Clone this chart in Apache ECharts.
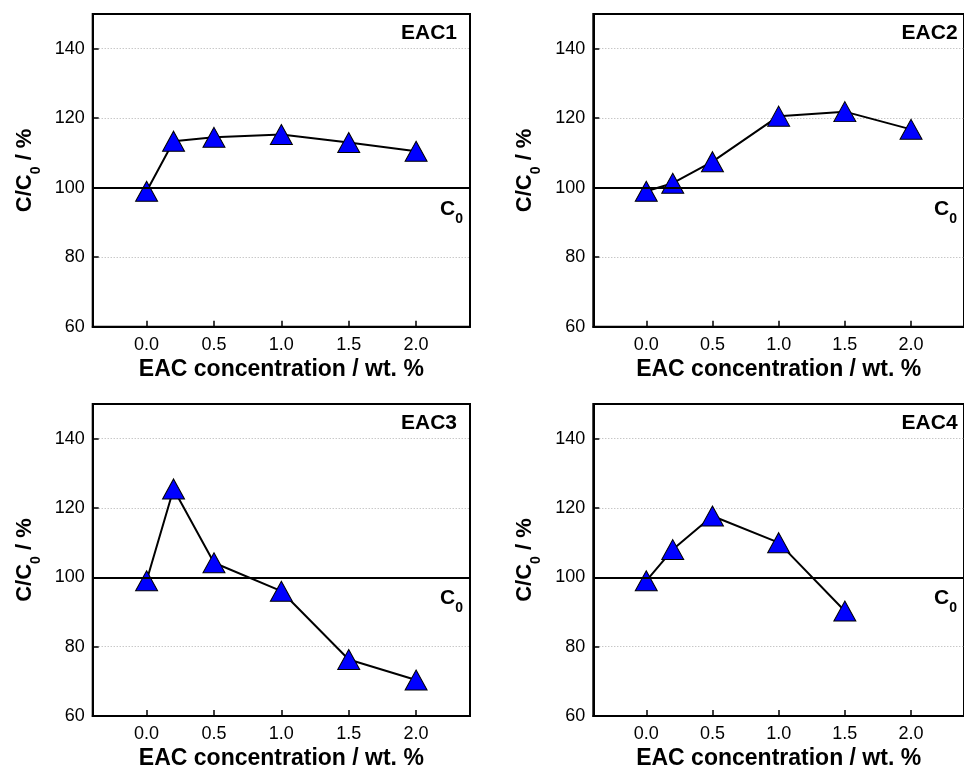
<!DOCTYPE html>
<html>
<head>
<meta charset="utf-8">
<script src="https://cdn.jsdelivr.net/npm/echarts@6/dist/echarts.min.js"></script>
<style>
html,body{margin:0;padding:0;background:#fff;}
#chart{width:964px;height:773px;}
</style>
</head>
<body>
<div id="chart"></div>
<script>
// ---- data ----
const xValues = [0.0, 0.2, 0.5, 1.0, 1.5, 2.0];
const eac1 = [99, 113.4, 114.5, 115.3, 113, 110.5];
const eac2 = [99, 101.3, 107.5, 120.6, 121.9, 116.8];
const eac3 = [99, 125.5, 104.2, 96, 76.3, 70.4];
const eac4 = [99, 108, 117.7, 110, 90.3];
const panelNames = ['EAC1', 'EAC2', 'EAC3', 'EAC4'];
const xTicks = [0.0, 0.5, 1.0, 1.5, 2.0];
const yTicks = [60, 80, 100, 120, 140];
const c0Level = 100;

const FONT = 'Liberation Sans, Arial, Helvetica, sans-serif';
const seriesValues = [eac1, eac2, eac3, eac4];

const grids = [
  {left: 92.7, top: 14, width: 377.3, height: 312.7},
  {left: 593.3, top: 14, width: 377.3, height: 312.7},
  {left: 92.7, top: 404, width: 377.3, height: 312},
  {left: 593.3, top: 404, width: 377.3, height: 312}
];
const titlePos = [
  {right: 507, top: 23},
  {right: 6.4, top: 23},
  {right: 507, top: 413},
  {right: 6.4, top: 413}
];

const option = {
  backgroundColor: '#fff',
  animation: false,
  textStyle: {fontFamily: FONT},
  title: panelNames.map((n, i) => ({
    text: n, right: titlePos[i].right, top: titlePos[i].top, padding: 0,
    textStyle: {fontFamily: FONT, fontSize: 21, fontWeight: 'bold', color: '#000'}
  })),
  grid: grids.map(g => Object.assign({
    show: true, borderColor: '#000', borderWidth: 2, backgroundColor: 'transparent',
    containLabel: false
  }, g)),
  xAxis: grids.map((g, i) => ({
    type: 'value', gridIndex: i, min: -0.4, max: 2.4,
    name: 'EAC concentration / wt. %', nameLocation: 'middle', nameGap: 31,
    nameTextStyle: {fontFamily: FONT, fontSize: 23, fontWeight: 'bold', color: '#000'},
    axisLine: {show: true, onZero: false, lineStyle: {color: '#000', width: 2}},
    axisTick: {show: true, inside: true, length: 6, customValues: xTicks, lineStyle: {color: '#000', width: 1.5}},
    axisLabel: {show: true, customValues: xTicks, margin: 9, fontFamily: FONT, fontSize: 18, color: '#000',
      formatter: v => Number(v).toFixed(1)},
    splitLine: {show: false}
  })),
  yAxis: grids.map((g, i) => ({
    type: 'value', gridIndex: i, min: 60, max: 150, interval: 20,
    name: '{a|C/C}{s|0}{a| / %}', nameLocation: 'middle', nameGap: 50, nameRotate: 90,
    nameTextStyle: {
      fontFamily: FONT, color: '#000',
      rich: {
        a: {fontFamily: FONT, fontSize: 22, fontWeight: 'bold', color: '#000', lineHeight: 36},
        s: {fontFamily: FONT, fontSize: 14, fontWeight: 'bold', color: '#000', lineHeight: 14, verticalAlign: 'bottom'}
      }
    },
    axisLine: {show: true, onZero: false, lineStyle: {color: '#000', width: 2}},
    axisTick: {show: true, inside: true, length: 6, customValues: yTicks, lineStyle: {color: '#000', width: 1.5}},
    axisLabel: {show: true, customValues: yTicks, margin: 8, fontFamily: FONT, fontSize: 18, color: '#000'},
    splitLine: {show: true, lineStyle: {color: '#b0b0b0', width: 1, type: [1, 2]}}
  })),
  series: seriesValues.map((vals, i) => ({
    type: 'line', xAxisIndex: i, yAxisIndex: i,
    data: vals.map((v, k) => [xValues[k], v]),
    symbol: 'triangle', symbolSize: [22, 20],
    itemStyle: {color: '#0000ff', borderColor: '#000', borderWidth: 1},
    lineStyle: {color: '#000', width: 2},
    z: 3,
    markLine: {
      silent: true, symbol: 'none', animation: false,
      lineStyle: {color: '#000', width: 2, type: 'solid'},
      label: {
        show: true, position: 'insideEndBottom', distance: [7, 4],
        formatter: '{c|C}{s|0}',
        rich: {
          c: {fontFamily: FONT, fontSize: 21, fontWeight: 'bold', color: '#000', lineHeight: 34},
          s: {fontFamily: FONT, fontSize: 14, fontWeight: 'bold', color: '#000', lineHeight: 14, verticalAlign: 'bottom'}
        }
      },
      data: [{yAxis: c0Level}]
    }
  }))
};

const chart = echarts.init(document.getElementById('chart'), null, {renderer: 'canvas'});
chart.setOption(option);
</script>
</body>
</html>
